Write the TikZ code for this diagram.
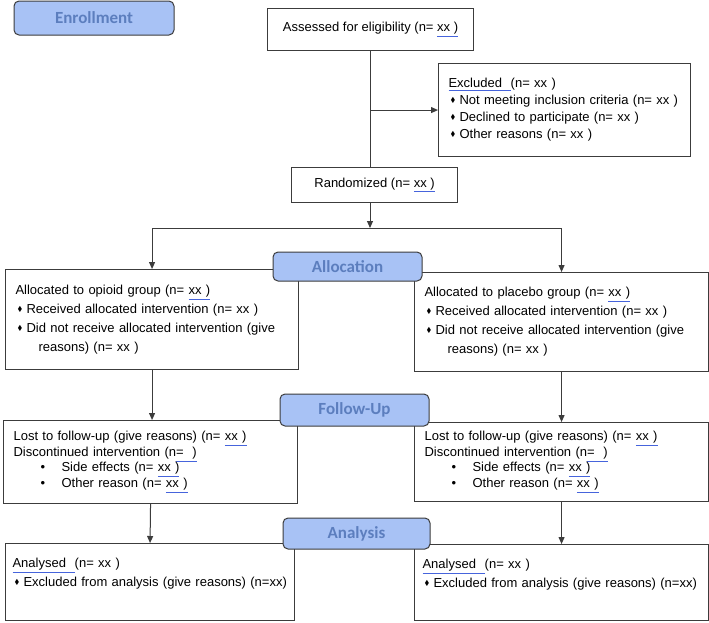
\documentclass[tikz,border=0pt]{standalone}
\usepackage{amssymb}
\usepackage{fontspec}
\setmainfont{Liberation Sans}
\newfontfamily\phasefont{Carlito}
\usetikzlibrary{arrows.meta,positioning}
\definecolor{BoxGray}{RGB}{60,60,60}
\definecolor{PhaseFill}{RGB}{168,194,245}
\definecolor{PhaseText}{RGB}{92,126,190}
\definecolor{SpellBlue}{RGB}{70,100,220}
\newcommand{\dmd}{\raisebox{0.28ex}{\scalebox{0.55}{$\blacklozenge$}}}
\newcommand{\dmdi}{\makebox[11pt][l]{\hspace{2pt}\dmd}}
\newcommand{\rbul}{\hspace*{27pt}\makebox[21pt][l]{\textbullet}}
\newcommand{\sqig}[1]{{\color{SpellBlue}\underline{\color{black}#1}}}

\begin{document}
\begin{tikzpicture}[x=1pt,y=-1pt,>={Triangle[length=7pt,width=6pt]}]
  \tikzset{
    flowbox/.style={draw=BoxGray, line width=1.1pt, fill=white, anchor=north west,
      align=left, inner xsep=10pt, inner ysep=3pt,
      font=\fontsize{13}{17}\selectfont},
    phase/.style={draw=BoxGray, line width=1pt, fill=PhaseFill, rounded corners=5pt,
      minimum width=149pt, minimum height=31pt, inner sep=0pt, text=PhaseText,
      font=\phasefont\bfseries\fontsize{17}{17}\selectfont},
    link/.style={draw=BoxGray, line width=1pt}
  }
  \useasboundingbox (0,0) rectangle (709,622);
  \fill[white] (0,0) rectangle (709,622);

  % enrollment
  \node[flowbox, align=center, minimum width=206pt, minimum height=42pt] (assess) at (267,8)
    {Assessed for eligibility (n= \sqig{xx )}};
  \node[flowbox, text width=232pt, minimum height=93pt] (excl) at (438,63)
    {\sqig{Excluded\ \ }(n= xx )\\
     \dmdi Not meeting inclusion criteria (n= xx )\\
     \dmdi Declined to participate (n= xx )\\
     \dmdi Other reasons (n= xx )};
  \node[flowbox, align=center, minimum width=166pt, minimum height=35pt] (rand) at (291,167)
    {Randomized (n= \sqig{xx )}};

  % allocation
  \node[flowbox, text width=273pt, minimum height=100pt, font=\fontsize{13}{19}\selectfont] (allocL) at (5,269)
    {Allocated to opioid group (n= \sqig{xx )}\\
     \dmdi Received allocated intervention (n= xx )\\
     \dmdi Did not receive allocated intervention (give\\
     \hspace*{23pt}reasons) (n= xx )};
  \node[flowbox, text width=274pt, minimum height=99pt, font=\fontsize{13}{19}\selectfont] (allocR) at (414,272)
    {Allocated to placebo group (n= \sqig{xx )}\\
     \dmdi Received allocated intervention (n= xx )\\
     \dmdi Did not receive allocated intervention (give\\
     \hspace*{23pt}reasons) (n= xx )};

  % follow-up
  \node[flowbox, text width=274pt, minimum height=83pt, font=\fontsize{13}{15.7}\selectfont] (fuL) at (3,420)
    {Lost to follow-up (give reasons) (n= \sqig{xx )}\\
     Discontinued intervention (n\sqig{=\ \ )}\\
     \rbul Side effects (n= \sqig{xx )}\\
     \rbul Other reason (n= \sqig{xx )}};
  \node[flowbox, text width=274pt, minimum height=79pt, font=\fontsize{13}{15.7}\selectfont] (fuR) at (414,422)
    {Lost to follow-up (give reasons) (n= \sqig{xx )}\\
     Discontinued intervention (n\sqig{=\ \ )}\\
     \rbul Side effects (n= \sqig{xx )}\\
     \rbul Other reason (n= \sqig{xx )}};

  % analysis
  \node[flowbox, inner xsep=7pt, text width=275pt, minimum height=77pt, font=\fontsize{13}{19}\selectfont] (anL) at (5,543)
    {\sqig{Analysed\ \ }(n= xx )\\
     \dmdi Excluded from analysis (give reasons) (n=xx)\\ \mbox{}};
  \node[flowbox, inner xsep=8pt, text width=278pt, minimum height=76pt, font=\fontsize{13}{19}\selectfont] (anR) at (414,544)
    {\sqig{Analysed\ \ }(n= xx )\\
     \dmdi Excluded from analysis (give reasons) (n=xx)\\ \mbox{}};

  % phase labels
  \node[phase, minimum width=160pt, minimum height=34pt] (enroll) at (94,18) {Enrollment};
  \node[phase, minimum height=29pt] (allocation) at (347.5,266.5) {Allocation};
  \node[phase, minimum height=32pt] (followup) at (354.5,410) {Follow-Up};
  \node[phase, minimum width=147pt] (analysis) at (356.5,533.5) {Analysis};

  % connectors
  \coordinate (split) at (370,228);
  \draw[link] (assess.south) -- (assess.south |- rand.north);
  \draw[link,->] (assess.south |- excl.west) -- (excl.west);
  \draw[link,->] (rand.south -| split) -- (split);
  \draw[link,->] (split) -| (allocL.north);
  \draw[link,->] (split) -| (allocR.north);
  \draw[link,->] (allocL.south) -- (fuL.north -| allocL.south);
  \draw[link,->] (allocR.south) -- (fuR.north);
  \draw[link,->] (fuL.south) -- (anL.north);
  \draw[link,->] (fuR.south) -- (anR.north);
\end{tikzpicture}
\end{document}
